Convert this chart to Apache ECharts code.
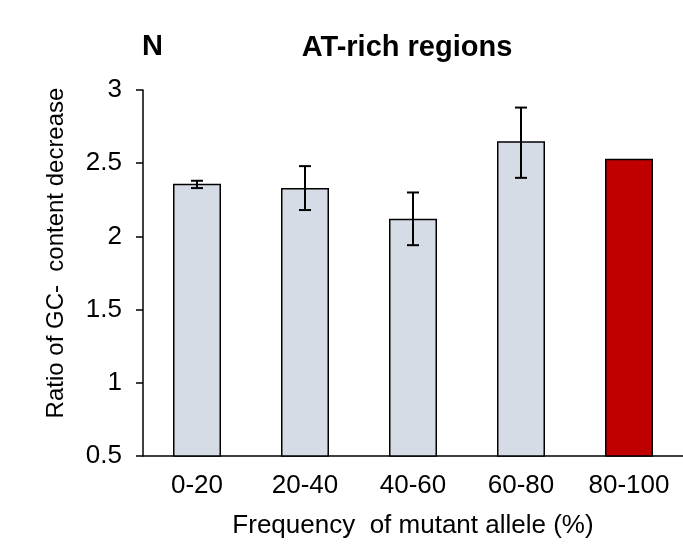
<!DOCTYPE html>
<html>
<head>
<meta charset="utf-8">
<script src="https://cdn.jsdelivr.net/npm/echarts@6/dist/echarts.min.js"></script>
<style>
  html, body { margin: 0; padding: 0; background: #fff; }
  #chart { width: 683px; height: 544px; }
</style>
</head>
<body>
<div id="chart"></div>
<script>
const categories = ["0-20", "20-40", "40-60", "60-80", "80-100"];
const ratios = [2.36, 2.33, 2.12, 2.65, 2.53];
const errLow = [2.33, 2.18, 1.94, 2.40, null];
const errHigh = [2.38, 2.48, 2.30, 2.88, null];
const barColors = ["#d6dce5", "#d6dce5", "#d6dce5", "#d6dce5", "#c00000"];
const yTicks = [0.5, 1, 1.5, 2, 2.5, 3];

const font = "'Liberation Sans', Arial, sans-serif";
const chart = echarts.init(document.getElementById("chart"));

const errorData = categories
  .map((c, i) => [i, errLow[i], errHigh[i]])
  .filter(d => d[1] != null);

chart.setOption({
  animation: false,
  textStyle: { fontFamily: font },
  grid: { left: 143, top: 90, width: 548, height: 366 },
  graphic: [
    {
      type: "text", x: 142, y: 47,
      style: { text: "N", font: "bold 29px " + font, fill: "#000", verticalAlign: "middle" }
    },
    {
      type: "text", x: 407, y: 48,
      style: { text: "AT-rich regions", font: "bold 29px " + font, fill: "#000", align: "center", verticalAlign: "middle" }
    },
    {
      type: "text", x: 56, y: 253, rotation: Math.PI / 2,
      style: { text: "Ratio of GC-  content decrease", font: "24px " + font, fill: "#000", align: "center", verticalAlign: "middle" }
    }
  ],
  xAxis: {
    type: "category",
    data: categories,
    name: "Frequency  of mutant allele (%)",
    nameLocation: "middle",
    nameGap: 57,
    nameTextStyle: { fontSize: 26, color: "#000", fontFamily: font },
    axisLine: { lineStyle: { color: "#000", width: 1.5 } },
    axisTick: { show: false },
    axisLabel: { fontSize: 26, color: "#000", margin: 17, fontFamily: font }
  },
  yAxis: {
    type: "value",
    min: 0.5,
    max: 3,
    interval: 0.5,
    axisLine: { show: true, lineStyle: { color: "#000", width: 1.5 } },
    axisTick: { show: true, length: 7, lineStyle: { color: "#000", width: 1.5 } },
    axisLabel: {
      fontSize: 26, color: "#000", margin: 21, fontFamily: font,
      formatter: v => (yTicks.includes(v) ? String(v) : "")
    },
    splitLine: { show: false }
  },
  series: [
    {
      type: "bar",
      barWidth: 48,
      data: ratios.map((v, i) => ({
        value: v,
        itemStyle: { color: barColors[i], borderColor: "#000", borderWidth: 1.5 }
      }))
    },
    {
      type: "custom",
      data: errorData,
      z: 5,
      renderItem: (params, api) => {
        const x = api.value(0);
        const lo = api.coord([x, api.value(1)]);
        const hi = api.coord([x, api.value(2)]);
        const half = 6;
        const style = { stroke: "#000", lineWidth: 2 };
        return {
          type: "group",
          children: [
            { type: "line", shape: { x1: lo[0], y1: lo[1], x2: hi[0], y2: hi[1] }, style },
            { type: "line", shape: { x1: hi[0] - half, y1: hi[1], x2: hi[0] + half, y2: hi[1] }, style },
            { type: "line", shape: { x1: lo[0] - half, y1: lo[1], x2: lo[0] + half, y2: lo[1] }, style }
          ]
        };
      }
    }
  ]
});
</script>
</body>
</html>
